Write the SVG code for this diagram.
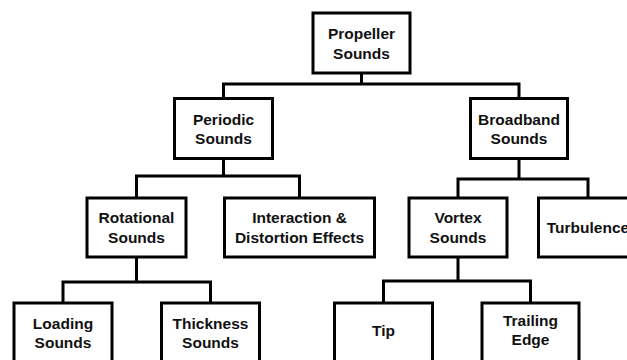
<svg xmlns="http://www.w3.org/2000/svg" width="627" height="360" viewBox="0 0 627 360">
<style>
.box{fill:#fff;stroke:#000;stroke-width:3}
.lbl{font-family:"Liberation Sans",Arial,sans-serif;font-weight:bold;font-size:15.5px;fill:#111;text-anchor:middle}
.con{fill:none;stroke:#000;stroke-width:3;stroke-linejoin:miter;stroke-linecap:butt}
</style>
<rect width="627" height="360" fill="#fff"/>
<g id="connectors">
<path class="con" d="M361.5 73V84M223.5 98.5V84H519V98.5"/>
<path class="con" d="M223.5 158.5V176M136.5 198V176H299.5V198"/>
<path class="con" d="M519 158.5V179M458 198V179H588V198"/>
<path class="con" d="M136.5 257V282M63 303V282H210.5V303"/>
<path class="con" d="M458 257V281M383.5 303V281H530.5V303"/>
</g>
<g id="propeller"><rect class="box" x="313" y="13" width="97" height="60"/><text class="lbl" x="361.5" y="38.5">Propeller</text><text class="lbl" x="361.5" y="58.5">Sounds</text></g>
<g id="periodic"><rect class="box" x="174.5" y="98.5" width="98" height="60"/><text class="lbl" x="223.5" y="124.5">Periodic</text><text class="lbl" x="223.5" y="144">Sounds</text></g>
<g id="broadband"><rect class="box" x="470.5" y="98.5" width="97" height="60"/><text class="lbl" x="519" y="124.5">Broadband</text><text class="lbl" x="519" y="144">Sounds</text></g>
<g id="rotational"><rect class="box" x="87" y="198" width="99" height="59"/><text class="lbl" x="136.5" y="223">Rotational</text><text class="lbl" x="136.5" y="243">Sounds</text></g>
<g id="interaction"><rect class="box" x="224.5" y="198" width="150" height="59"/><text class="lbl" x="299.5" y="223">Interaction &amp;</text><text class="lbl" x="299.5" y="242.5">Distortion Effects</text></g>
<g id="vortex"><rect class="box" x="409" y="198" width="98" height="59"/><text class="lbl" x="458" y="223">Vortex</text><text class="lbl" x="458" y="243">Sounds</text></g>
<g id="turbulence"><rect class="box" x="538.5" y="198" width="99" height="59"/><text class="lbl" x="588" y="232.5">Turbulence</text></g>
<g id="loading"><rect class="box" x="14" y="303" width="98" height="60"/><text class="lbl" x="63" y="328.5">Loading</text><text class="lbl" x="63" y="347.5">Sounds</text></g>
<g id="thickness"><rect class="box" x="161.5" y="303" width="98" height="60"/><text class="lbl" x="210.5" y="328.5">Thickness</text><text class="lbl" x="210.5" y="347.5">Sounds</text></g>
<g id="tip"><rect class="box" x="334.5" y="303" width="98" height="60"/><text class="lbl" x="383.5" y="336">Tip</text></g>
<g id="trailing"><rect class="box" x="482" y="303" width="97" height="60"/><text class="lbl" x="530.5" y="326">Trailing</text><text class="lbl" x="530.5" y="344.5">Edge</text></g>
</svg>
